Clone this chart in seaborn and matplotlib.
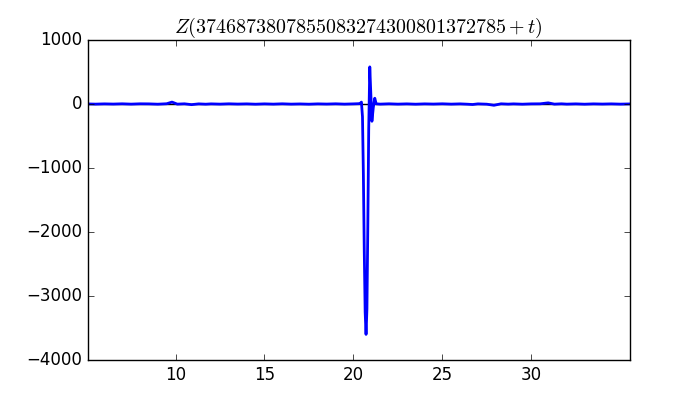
import matplotlib
matplotlib.use("Agg")
import matplotlib.pyplot as plt
import seaborn as sns

# old-school matplotlib look
plt.style.use("classic")
plt.rcParams["font.family"] = ["DejaVu Sans"]

# t offsets and Z values
t_values = [5.05, 5.5, 6.0, 6.5, 7.0, 7.5, 8.0, 8.5, 9.0, 9.5, 9.8, 10.1,
            10.5, 10.9, 11.3, 11.7, 12.0, 12.5, 13.0, 13.5, 14.0, 14.5, 15.0,
            15.5, 16.0, 16.5, 17.0, 17.5, 18.0, 18.5, 19.0, 19.5, 20.0, 20.3,
            20.39, 20.45, 20.51, 20.56, 20.61, 20.66, 20.71, 20.76, 20.81,
            20.86, 20.92, 20.98, 21.04, 21.12, 21.20, 21.28, 21.5, 22.0, 22.5,
            23.0, 23.5, 24.0, 24.5, 25.0, 25.5, 26.0, 26.4, 26.7, 27.0, 27.5,
            27.9, 28.3, 28.7, 29.0, 29.5, 30.0, 30.5, 30.95, 31.3, 31.7, 32.0,
            32.5, 33.0, 33.5, 34.0, 34.5, 35.0, 35.55]
z_values = [1, -2, 2, -1, 3, -2, 3, 2, -3, 4, 30, -2,
            3, -10, 2, -3, 2, -2, 3, -1, 2, -3, 2,
            -2, 3, -2, 1, -3, 2, -1, 3, -2, 2, 5,
            12, 30, -200, -1100, -2300, -3250, -3600, -3200, -1900,
            -400, 580, 150, -270, -50, 90, 3, -2, 3, -2,
            2, -3, 2, -1, 3, -2, 2, -3, -8, 2, -3,
            -20, 3, -2, 2, -3, 2, 3, 18, -2, 3, -2,
            2, -3, 2, -1, 2, -2, 1]

title = r"$Z(3746873807855083274300801372785+t)$"

fig = plt.figure(figsize=(7, 4), dpi=100, facecolor="white")
ax = fig.add_subplot(111)
fig.subplots_adjust(left=0.125, right=0.9, bottom=0.1, top=0.9)

ax.axhline(0, color="black", linewidth=1, zorder=1)
sns.lineplot(x=t_values, y=z_values, color="blue", linewidth=2,
             estimator=None, ax=ax, zorder=2)

ax.set_xlim(5.05, 35.55)
ax.set_ylim(-4000, 1000)
ax.set_xticks([10, 15, 20, 25, 30])
ax.set_yticks([1000, 0, -1000, -2000, -3000, -4000])
ax.set_title(title, fontsize=14.4)

plt.savefig("out.png", dpi=100, facecolor="white")
